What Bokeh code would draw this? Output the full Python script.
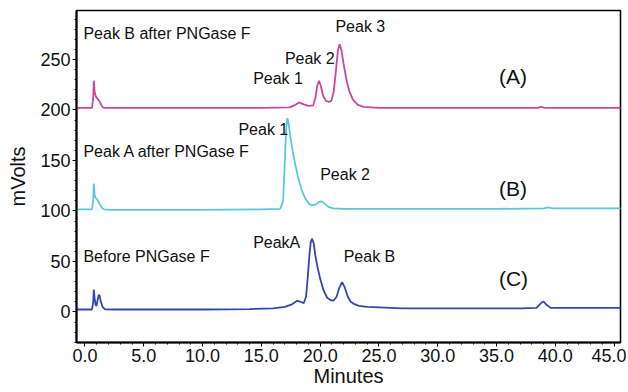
from bokeh.plotting import figure
from bokeh.models import Range1d, PrintfTickFormatter, SingleIntervalTicker, ColumnDataSource
from bokeh.core.properties import value
from bokeh.embed import file_html
from bokeh.resources import INLINE

FONT = "Liberation Sans"

# ---- data ----
# (A) Peak B after PNGase F  (magenta)
tA = [-0.72, 0.6, 0.7, 0.75, 0.82, 0.9, 1.0, 1.15, 1.3, 1.45, 1.6, 2.2, 5, 10, 15,
      17.4, 17.8, 18.2, 18.6, 19.0, 19.4, 19.6, 19.75, 19.9, 20.05, 20.25, 20.5, 20.75,
      20.95, 21.15, 21.35, 21.5, 21.65, 21.8, 22.0, 22.25, 22.5, 22.8, 23.2, 23.7, 25,
      30, 35, 38.5, 38.8, 39.1, 40, 45.6]
vA = [202, 202, 212, 229, 218, 214, 212, 210, 207, 203.5, 202, 202, 202, 202, 202,
      202.5, 204.5, 207.5, 205.5, 204, 204.5, 212, 224, 229, 224, 214, 209, 208,
      209, 218, 240, 258, 265, 260, 245, 229, 218, 210, 205, 203, 202,
      202, 202, 202, 203, 202, 202, 202]

# (B) Peak A after PNGase F  (cyan)
tB = [-0.72, 0.6, 0.7, 0.75, 0.82, 0.9, 1.0, 1.15, 1.3, 1.45, 1.6, 2.2, 5, 10, 15,
      16.6, 16.85, 17.0, 17.1, 17.2, 17.3, 17.45, 17.65, 17.9, 18.15, 18.45, 18.75,
      19.05, 19.35, 19.65, 19.9, 20.15, 20.4, 20.7, 21.1, 22, 25, 30, 35, 39.0, 39.4,
      39.8, 45.6]
vB = [101.5, 101.5, 110, 127, 116, 113, 112, 109, 106, 103, 101.5, 101, 101, 101, 101.5,
      102, 110, 150, 180, 192, 188, 175, 160, 145, 132, 120, 112,
      107, 105.5, 106.5, 109, 109.5, 107, 104, 102.5, 102, 102, 102, 102, 102.5, 103.5,
      102.5, 102.5]

# (C) Before PNGase F  (blue)
tC = [-0.72, 0.6, 0.7, 0.75, 0.82, 0.9, 0.98, 1.08, 1.18, 1.25, 1.35, 1.5, 1.7, 2.5, 5,
      10, 14, 16, 17.0, 17.6, 18.05, 18.35, 18.6, 18.8, 18.95, 19.1, 19.2, 19.3, 19.45,
      19.6, 19.8, 20.0, 20.3, 20.6, 20.9, 21.15, 21.4, 21.6, 21.87, 22.1, 22.35, 22.6,
      22.85, 23.3, 24, 27, 32, 37, 38.4, 38.8, 39.0, 39.25, 39.6, 42, 45.6]
vC = [2.4, 2.4, 10, 22, 14, 7, 6, 12, 17, 16, 10, 5, 2.6, 2.4, 2.4,
      2.4, 2.8, 3.5, 5, 7.5, 11, 10, 8.6, 15, 35, 58, 69, 72.5, 68,
      55, 43, 33, 21, 14, 11.5, 11.3, 15, 23, 29.4, 24, 15, 10,
      8, 6, 5, 3.4, 3.4, 3.5, 4, 9, 10.3, 7, 4, 4, 4]

# annotations
ann_text = ["Peak B after PNGase F", "Peak 1", "Peak 2", "Peak 3",
            "Peak 1", "Peak A after PNGase  F", "Peak 2",
            "Before PNGase F", "PeakA", "Peak B"]
ann_x = [-0.13, 14.3, 17.0, 21.3, 13.05, -0.13, 20.0, -0.13, 14.3, 22.0]
ann_y = [275.5, 231.5, 250.5, 282.5, 181, 159, 136, 55, 68.7, 55]

panel_text = ["(A)", "(B)", "(C)"]
panel_x = [35.2, 35.2, 35.2]
panel_y = [233, 122, 33]

x_ticks_interval = 5
y_ticks_interval = 50

p = figure(width=626, height=392, output_backend="svg", toolbar_location=None,
           x_range=Range1d(-0.72, 45.54), y_range=Range1d(-30.3, 298.5),
           min_border_left=76, min_border_right=6, min_border_top=10, min_border_bottom=50)
p.background_fill_color = "white"
p.border_fill_color = "white"
p.xgrid.visible = False
p.ygrid.visible = False
p.outline_line_color = "black"
p.outline_line_width = 1.6
p.outline_line_alpha = 1.0

p.line(tA, vA, line_color="#C8489E", line_width=1.8)
p.line(tB, vB, line_color="#5CC6DA", line_width=1.8)
p.line(tC, vC, line_color="#3448AC", line_width=1.8)

src = ColumnDataSource(dict(x=ann_x, y=ann_y, t=ann_text))
p.text(x="x", y="y", text="t", source=src, text_font=value(FONT), text_font_size="16px",
       text_align="left", text_baseline="middle", text_color="#111111")
src2 = ColumnDataSource(dict(x=panel_x, y=panel_y, t=panel_text))
p.text(x="x", y="y", text="t", source=src2, text_font=value(FONT), text_font_size="21px",
       text_align="left", text_baseline="middle", text_color="#111111")

for ax in (p.xaxis[0], p.yaxis[0]):
    ax.axis_line_width = 2
    ax.axis_line_color = "black"
    ax.major_tick_in = 0
    ax.major_tick_out = 4
    ax.minor_tick_in = 0
    ax.minor_tick_out = 2
    ax.major_tick_line_color = "black"
    ax.minor_tick_line_color = "black"
    ax.major_label_text_font = FONT
    ax.major_label_text_font_size = "18px"
    ax.major_label_text_color = "#111111"
    ax.axis_label_text_font = FONT
    ax.axis_label_text_font_size = "20px"
    ax.axis_label_text_font_style = "normal"
    ax.axis_label_text_color = "#111111"

p.xaxis.ticker = SingleIntervalTicker(interval=x_ticks_interval, num_minor_ticks=5)
p.xaxis.formatter = PrintfTickFormatter(format="%.1f")
p.xaxis.major_label_standoff = 2
p.xaxis.axis_label = "Minutes"
p.xaxis.axis_label_standoff = 0

p.yaxis.ticker = SingleIntervalTicker(interval=y_ticks_interval, num_minor_ticks=5)
p.yaxis.major_label_standoff = 2
p.yaxis.axis_label = "mVolts"
p.yaxis.axis_label_standoff = 8

open("out.html", "w").write(file_html(p, INLINE))
